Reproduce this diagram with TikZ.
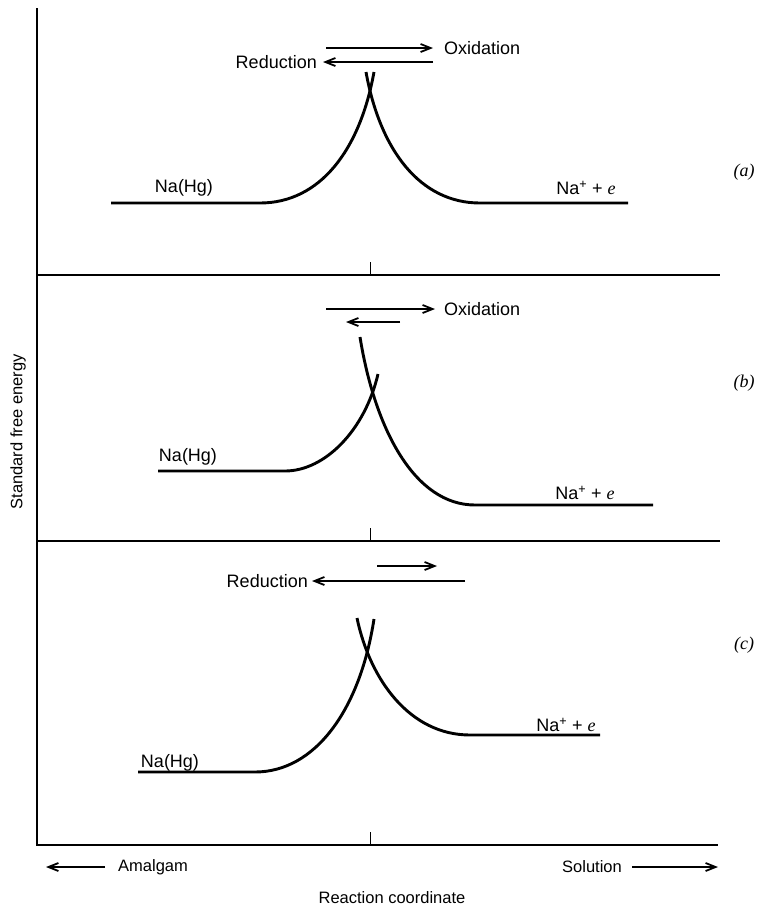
\documentclass[tikz,border=0pt]{standalone}
\usepackage{fontspec}
\setmainfont{Liberation Sans}
\newfontfamily\serf{Liberation Serif}
\usetikzlibrary{arrows.meta}

\tikzset{
  axis/.style={line width=1.6pt},
  sep/.style={line width=1.4pt},
  tick/.style={line width=1pt},
  curve/.style={line width=2.9pt},
  rxn/.style={line width=1.8pt, -{Straight Barb[length=10pt,width=8pt]}},
  lbl/.style={font=\fontsize{18}{20}\selectfont, inner sep=0pt},
  axlbl/.style={font=\fontsize{16.5}{18}\selectfont, inner sep=0pt},
  panel/.style={font=\serf\itshape\fontsize{18}{20}\selectfont, inner sep=0pt},
}
\newcommand{\naplus}{Na\textsuperscript{+} + {\serf\itshape e}}

\begin{document}
\begin{tikzpicture}[x=1pt, y=-1pt]
\useasboundingbox (0,0) rectangle (756,906);

% frame
\coordinate (top) at (37,8);
\coordinate (o) at (37,845);
\coordinate (xend) at (718,845);
\coordinate (s1l) at (37,275);
\coordinate (s1r) at (720,275);
\coordinate (s2l) at (37,541);
\coordinate (s2r) at (720,541);
\draw[axis] (top) -- (o) -- (xend);
\draw[sep] (s1l) -- (s1r);
\draw[sep] (s2l) -- (s2r);
\foreach \y in {275,541,845}
  \draw[tick] (370,\y) -- ++(0,-13);

% (a)
\coordinate (a1) at (111,203);
\coordinate (a2) at (260,203);
\coordinate (a3) at (374,72);
\coordinate (a4) at (366,72);
\coordinate (a5) at (480,203);
\coordinate (a6) at (628,203);
\draw[curve] (a1) -- (a2) .. controls (320,203) and (360,150) .. (a3);
\draw[curve] (a4) .. controls (380,150) and (420,203) .. (a5) -- (a6);

\coordinate (ao1) at (326,48);
\coordinate (ao2) at (433,48);
\coordinate (ar1) at (433,62);
\coordinate (ar2) at (323,62);
\draw[rxn] (ao1) -- (ao2);
\draw[rxn] (ar1) -- (ar2);
\node[lbl, anchor=west] (aox) at (444,48) {Oxidation};
\node[lbl, anchor=east] (ared) at (317,62) {Reduction};
\node[lbl] (ahg) at (184,188) {Na(Hg)};
\node[lbl] (ana) at (586,188) {\naplus};
\node[panel] (pa) at (744,172) {(a)};

% (b)
\coordinate (b1) at (158,471);
\coordinate (b2) at (285,471);
\coordinate (b3) at (378,374);
\coordinate (b4) at (360,337);
\coordinate (b5) at (475,505);
\coordinate (b6) at (653,505);
\draw[curve] (b1) -- (b2) .. controls (325,471) and (365,430) .. (b3);
\draw[curve] (b4) .. controls (375,430) and (415,505) .. (b5) -- (b6);

\coordinate (bo1) at (326,309);
\coordinate (bo2) at (435,309);
\coordinate (br1) at (400,322);
\coordinate (br2) at (346,322);
\draw[rxn] (bo1) -- (bo2);
\draw[rxn] (br1) -- (br2);
\node[lbl, anchor=west] (box) at (444,309) {Oxidation};
\node[lbl] (bhg) at (188,457) {Na(Hg)};
\node[lbl] (bna) at (585,493) {\naplus};
\node[panel] (pb) at (744,383) {(b)};

% (c)
\coordinate (c1) at (138,772);
\coordinate (c2) at (255,772);
\coordinate (c3) at (374,619);
\coordinate (c4) at (357,618);
\coordinate (c5) at (470,735);
\coordinate (c6) at (600,735);
\draw[curve] (c1) -- (c2) .. controls (315,772) and (360,710) .. (c3);
\draw[curve] (c4) .. controls (370,680) and (410,735) .. (c5) -- (c6);

\coordinate (co1) at (377,566);
\coordinate (co2) at (437,566);
\coordinate (cr1) at (465,581);
\coordinate (cr2) at (312,581);
\draw[rxn] (co1) -- (co2);
\draw[rxn] (cr1) -- (cr2);
\node[lbl, anchor=east] (cred) at (308,581) {Reduction};
\node[lbl] (chg) at (170,763) {Na(Hg)};
\node[lbl] (cna) at (566,725) {\naplus};
\node[panel] (pc) at (744,645) {(c)};

% axes
\coordinate (am1) at (105,867);
\coordinate (am2) at (46,867);
\coordinate (so1) at (632,867);
\coordinate (so2) at (718,867);
\draw[rxn] (am1) -- (am2);
\draw[rxn] (so1) -- (so2);
\node[axlbl, anchor=west] (amal) at (118,867) {Amalgam};
\node[axlbl, anchor=east] (sol) at (622,867) {Solution};
\node[axlbl] (rc) at (392,898) {Reaction coordinate};
\node[axlbl, rotate=90] (sfe) at (18,432) {Standard free energy};

\end{tikzpicture}
\end{document}
